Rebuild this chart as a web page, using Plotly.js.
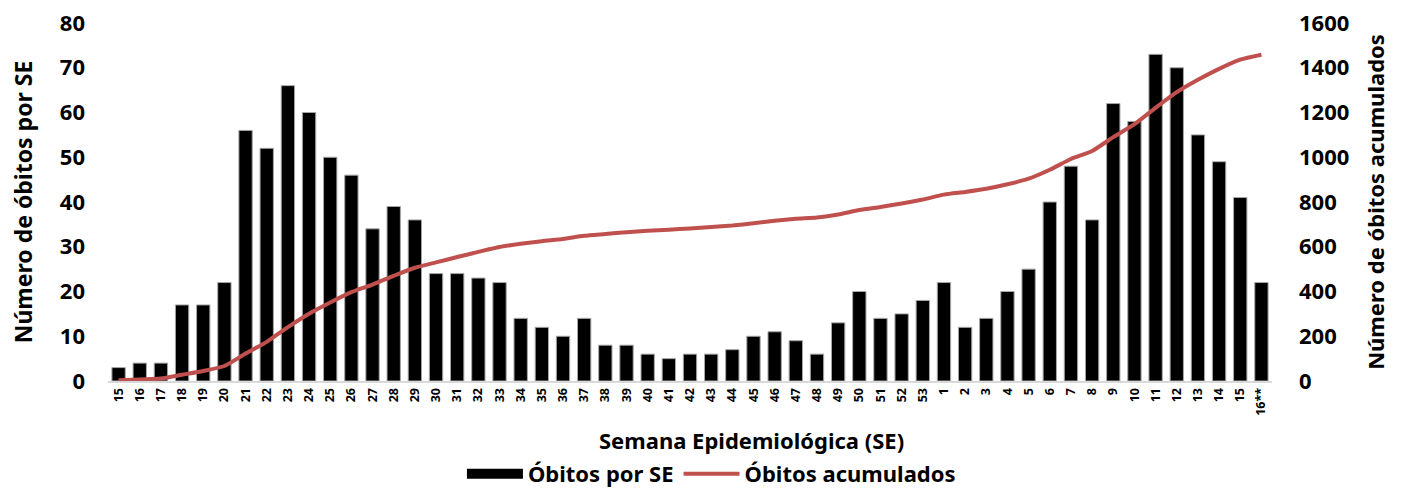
<!DOCTYPE html>
<html>
<head>
<meta charset="utf-8">
<script src="https://cdn.plot.ly/plotly-3.0.1.min.js"></script>
<style>html,body{margin:0;padding:0;background:#fff;}#chart{width:1406px;height:488px;}</style>
</head>
<body>
<div id="chart"></div>
<script>
// Semana epidemiológica labels (2020 weeks 15-53, then 2021 weeks 1-16)
const semanas = ["15","16","17","18","19","20","21","22","23","24","25","26","27","28","29","30","31","32","33","34","35","36","37","38","39","40","41","42","43","44","45","46","47","48","49","50","51","52","53","1","2","3","4","5","6","7","8","9","10","11","12","13","14","15","16**"];
const obitosPorSE = [3,4,4,17,17,22,56,52,66,60,50,46,34,39,36,24,24,23,22,14,12,10,14,8,8,6,5,6,6,7,10,11,9,6,13,20,14,15,18,22,12,14,20,25,40,48,36,62,58,73,70,55,49,41,22];
const obitosAcumulados = [3,7,11,28,45,67,123,175,241,301,351,397,431,470,506,530,554,577,599,613,625,635,649,657,665,671,676,682,688,695,705,716,725,731,744,764,778,793,811,833,845,859,879,904,944,992,1028,1090,1148,1221,1291,1346,1395,1436,1458];
const leftTicks = [0,10,20,30,40,50,60,70,80];
const rightTicks = [0,200,400,600,800,1000,1200,1400,1600];

const FONT = "Noto Sans, Open Sans, sans-serif";
const idx = semanas.map((s, i) => i);

const traces = [
  {
    type: "bar",
    name: "Óbitos por SE",
    x: idx,
    y: obitosPorSE,
    marker: {color: "#000000", line: {color: "#a6a6a6", width: 1}},
    width: 0.63,
    showlegend: false,
    hoverinfo: "y"
  },
  {
    // legend swatch for the bar series (wide black block as in the original)
    type: "scatter",
    mode: "lines",
    name: "Óbitos por SE",
    x: [null],
    y: [null],
    line: {color: "#000000", width: 18},
    showlegend: true,
    hoverinfo: "skip"
  },
  {
    type: "scatter",
    mode: "lines",
    name: "Óbitos acumulados",
    x: idx,
    y: obitosAcumulados,
    yaxis: "y2",
    line: {color: "#C0504D", width: 4, shape: "spline", smoothing: 0.6},
    hoverinfo: "y"
  }
];

const layout = {
  width: 1406,
  height: 488,
  margin: {l: 108, r: 134, t: 23, b: 107},
  paper_bgcolor: "#ffffff",
  plot_bgcolor: "#ffffff",
  font: {family: FONT, color: "#000000", weight: "bold"},
  showlegend: true,
  legend: {
    orientation: "h",
    x: 0.506, xanchor: "center", xref: "container",
    y: 1 - 474 / 488, yanchor: "middle", yref: "container",
    font: {family: FONT, size: 22, weight: "bold", color: "#000"},
    itemwidth: 56,
    traceorder: "normal"
  },
  annotations: [{
    text: "Semana Epidemiológica (SE)",
    xref: "paper", x: (751 - 108) / 1164, xanchor: "center",
    yref: "paper", y: (381 - 440) / 358, yanchor: "middle",
    showarrow: false,
    font: {family: FONT, size: 22, weight: "bold", color: "#000"}
  }],
  xaxis: {
    range: [-0.5, semanas.length - 0.5],
    tickmode: "array",
    tickvals: idx,
    ticktext: semanas,
    tickangle: -90,
    tickfont: {family: FONT, size: 12.5, weight: "bold"},
    showgrid: false,
    zeroline: false,
    showline: true,
    linecolor: "#d9d9d9",
    linewidth: 2,
    ticks: "",
    automargin: false,
    fixedrange: true
  },
  yaxis: {
    range: [0, 80],
    tickmode: "array",
    tickvals: leftTicks,
    tickfont: {family: FONT, size: 22, weight: "bold"},
    ticklabelstandoff: 22,
    showgrid: false,
    zeroline: false,
    showline: false,
    ticks: "",
    automargin: false,
    title: {text: "Número de óbitos por SE", font: {family: FONT, size: 23, weight: "bold"}, standoff: 20},
    fixedrange: true
  },
  yaxis2: {
    range: [0, 1600],
    overlaying: "y",
    side: "right",
    tickmode: "array",
    tickvals: rightTicks,
    tickfont: {family: FONT, size: 22, weight: "bold"},
    ticklabelstandoff: 26,
    showgrid: false,
    zeroline: false,
    showline: false,
    ticks: "",
    automargin: false,
    title: {text: "Número de óbitos acumulados", font: {family: FONT, size: 22, weight: "bold"}, standoff: 20},
    fixedrange: true
  },
  bargap: 0.37
};

Plotly.newPlot("chart", traces, layout, {displayModeBar: false, staticPlot: true});
</script>
</body>
</html>
